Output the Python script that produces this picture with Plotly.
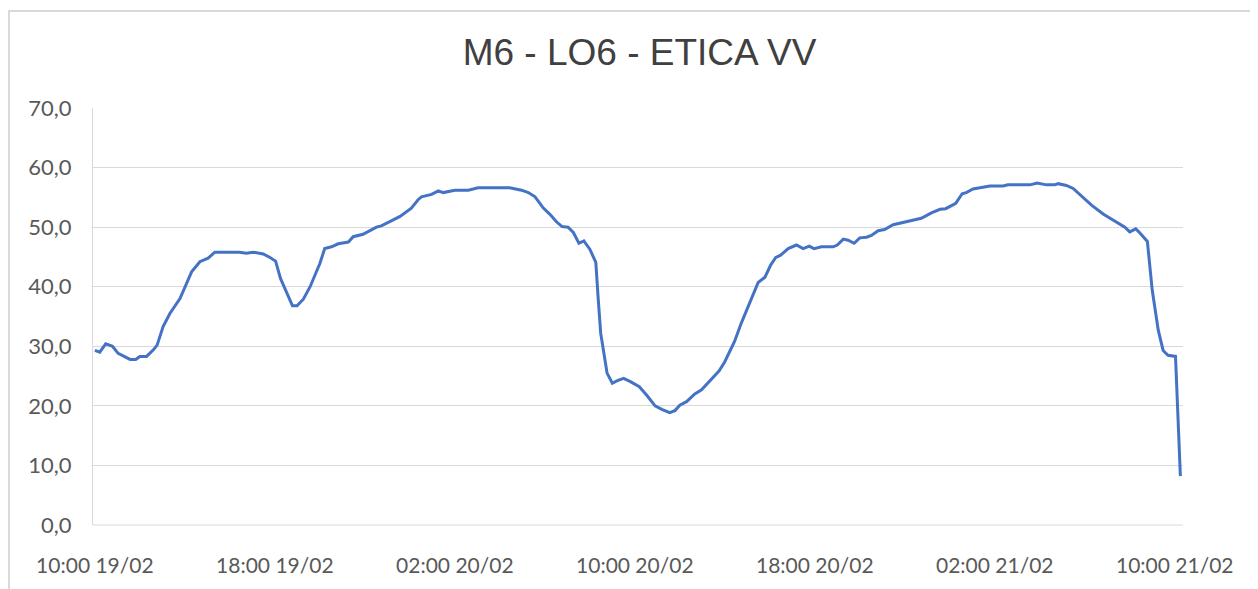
import plotly.graph_objects as go
import pandas as pd

title = "M6 - LO6 - ETICA VV"

times = [
    "19/02 10:00", "19/02 10:13", "19/02 10:29", "19/02 10:47", "19/02 11:02", "19/02 11:20",
    "19/02 11:34", "19/02 11:49", "19/02 12:00", "19/02 12:18", "19/02 12:36", "19/02 12:46",
    "19/02 13:02", "19/02 13:20", "19/02 13:47", "19/02 14:18", "19/02 14:40", "19/02 15:02",
    "19/02 15:20", "19/02 16:26", "19/02 16:44", "19/02 17:02", "19/02 17:29", "19/02 17:47",
    "19/02 18:02", "19/02 18:15", "19/02 18:33", "19/02 18:47", "19/02 18:59", "19/02 19:16",
    "19/02 19:34", "19/02 20:00", "19/02 20:13", "19/02 20:31", "19/02 20:49", "19/02 21:16",
    "19/02 21:29", "19/02 21:55", "19/02 22:31", "19/02 22:44", "19/02 23:34", "20/02 00:04",
    "20/02 00:22", "20/02 00:31", "20/02 00:58", "20/02 01:16", "20/02 01:29", "20/02 02:00",
    "20/02 02:36", "20/02 03:02", "20/02 04:26", "20/02 04:58", "20/02 05:16", "20/02 05:34",
    "20/02 05:56", "20/02 06:13", "20/02 06:31", "20/02 06:46", "20/02 07:02", "20/02 07:16",
    "20/02 07:31", "20/02 07:44", "20/02 08:00", "20/02 08:16", "20/02 08:22", "20/02 08:29",
    "20/02 08:46", "20/02 09:00", "20/02 09:12", "20/02 09:30", "20/02 09:47", "20/02 10:12",
    "20/02 10:33", "20/02 10:54", "20/02 11:12", "20/02 11:33", "20/02 11:47", "20/02 12:00",
    "20/02 12:18", "20/02 12:40", "20/02 12:58", "20/02 13:16", "20/02 13:45", "20/02 14:00",
    "20/02 14:26", "20/02 14:44", "20/02 15:06", "20/02 15:29", "20/02 15:47", "20/02 16:02",
    "20/02 16:16", "20/02 16:29", "20/02 16:49", "20/02 17:11", "20/02 17:29", "20/02 17:45",
    "20/02 17:58", "20/02 18:18", "20/02 18:49", "20/02 19:00", "20/02 19:16", "20/02 19:29",
    "20/02 19:45", "20/02 20:00", "20/02 20:18", "20/02 20:31", "20/02 20:49", "20/02 21:06",
    "20/02 21:29", "20/02 22:04", "20/02 22:44", "20/02 23:11", "20/02 23:34", "20/02 23:49",
    "21/02 00:16", "21/02 00:33", "21/02 00:44", "21/02 01:02", "21/02 01:25", "21/02 01:47",
    "21/02 02:22", "21/02 02:35", "21/02 03:34", "21/02 03:53", "21/02 04:18", "21/02 04:40",
    "21/02 04:49", "21/02 05:11", "21/02 05:29", "21/02 05:51", "21/02 06:18", "21/02 06:49",
    "21/02 07:25", "21/02 07:47", "21/02 08:00", "21/02 08:16", "21/02 08:26", "21/02 08:47",
    "21/02 09:00", "21/02 09:16", "21/02 09:29", "21/02 09:42", "21/02 10:02", "21/02 10:15",
]

values = [
    29.3, 29.0, 30.4, 30.0, 28.8, 28.3,
    27.8, 27.8, 28.3, 28.3, 29.4, 30.2,
    33.3, 35.5, 38.0, 42.5, 44.2, 44.8,
    45.8, 45.8, 45.6, 45.8, 45.5, 44.9,
    44.3, 41.4, 38.9, 36.8, 36.8, 37.9,
    40.0, 43.9, 46.4, 46.7, 47.2, 47.5,
    48.4, 48.8, 50.0, 50.2, 51.8, 53.2,
    54.6, 55.1, 55.5, 56.1, 55.8, 56.2,
    56.2, 56.6, 56.6, 56.2, 55.8, 55.1,
    53.2, 52.2, 50.9, 50.1, 50.0, 49.1,
    47.3, 47.7, 46.3, 44.1, 38.3, 32.2,
    25.5, 23.8, 24.2, 24.6, 24.1, 23.2,
    21.7, 20.0, 19.4, 18.85, 19.2, 20.1,
    20.7, 22.0, 22.7, 23.9, 25.9, 27.4,
    30.8, 33.9, 37.2, 40.7, 41.6, 43.6,
    44.9, 45.3, 46.4, 47.0, 46.4, 46.8,
    46.4, 46.7, 46.7, 47.0, 48.0, 47.8,
    47.3, 48.2, 48.3, 48.6, 49.4, 49.6,
    50.4, 50.9, 51.5, 52.4, 53.0, 53.1,
    54.0, 55.6, 55.8, 56.4, 56.6, 56.9,
    56.9, 57.1, 57.1, 57.4, 57.1, 57.1,
    57.3, 57.0, 56.5, 55.2, 53.7, 52.2,
    50.9, 50.0, 49.2, 49.7, 49.1, 47.6,
    39.4, 32.7, 29.3, 28.5, 28.3, 8.2,
]

tick_times = ["19/02 10:00", "19/02 18:00", "20/02 02:00", "20/02 10:00",
              "20/02 18:00", "21/02 02:00", "21/02 10:00"]
tick_labels = ["10:00 19/02", "18:00 19/02", "02:00 20/02", "10:00 20/02",
               "18:00 20/02", "02:00 21/02", "10:00 21/02"]
y_ticks = [0, 10, 20, 30, 40, 50, 60, 70]
y_tick_labels = ["0,0", "10,0", "20,0", "30,0", "40,0", "50,0", "60,0", "70,0"]


def parse(s):
    day, hm = s.split(" ")
    d, m = day.split("/")
    return pd.to_datetime(f"2024-{m}-{d} {hm}")


x = [parse(t) for t in times]
tx = [parse(t) for t in tick_times]

FONT = "Lato, 'Open Sans', sans-serif"
TITLE_FONT = "'Liberation Sans', Arial, sans-serif"
GRAY = "#595959"

# The page body has an 8px margin, so the figure is drawn at (8, 8);
# margins below are chosen so the plot area lands where the reference has it.
ML, MT, PW, PH = 85, 100, 1090, 417

fig = go.Figure()
fig.add_trace(go.Scatter(
    x=x, y=values, mode="lines",
    line=dict(color="#4472C4", width=3),
    showlegend=False, hoverinfo="x+y",
))

fig.update_layout(
    width=1258, height=589,
    margin=dict(l=ML, r=1258 - ML - PW, t=MT, b=589 - MT - PH),
    paper_bgcolor="white", plot_bgcolor="white",
    title=dict(text=title, x=631.5 / 1258, xanchor="center", y=1 - 44.5 / 589, yanchor="middle",
               font=dict(family=TITLE_FONT, size=37, color="#404040")),
    font=dict(family=FONT, color=GRAY),
    xaxis=dict(
        range=[parse("19/02 09:55"), parse("21/02 10:22")],
        tickvals=tx, ticktext=tick_labels,
        showgrid=False, zeroline=False, showline=False,
        ticks="outside", ticklen=22, tickcolor="rgba(0,0,0,0)",
        tickfont=dict(family=FONT, size=21, color=GRAY),
    ),
    yaxis=dict(
        range=[0, 70], tickvals=y_ticks, ticktext=y_tick_labels,
        showgrid=True, gridcolor="#D9D9D9", gridwidth=1,
        zeroline=False, showline=True, linecolor="#D9D9D9", linewidth=1,
        ticks="outside", ticklen=16, tickcolor="rgba(0,0,0,0)",
        tickfont=dict(family=FONT, size=22, color=GRAY),
    ),
    shapes=[
        dict(type="line", xref="paper", yref="paper", x0=0, x1=1, y0=0, y1=0,
             line=dict(color="#D9D9D9", width=1)),
        dict(type="rect", xref="paper", yref="paper",
             x0=(1 - ML) / PW, x1=(1300 - ML) / PW,
             y0=-(700 - MT - PH) / PH, y1=1 + (MT - 3) / PH,
             line=dict(color="#D9D9D9", width=2), fillcolor="rgba(0,0,0,0)", layer="below"),
    ],
)

fig.write_html("out.html")
